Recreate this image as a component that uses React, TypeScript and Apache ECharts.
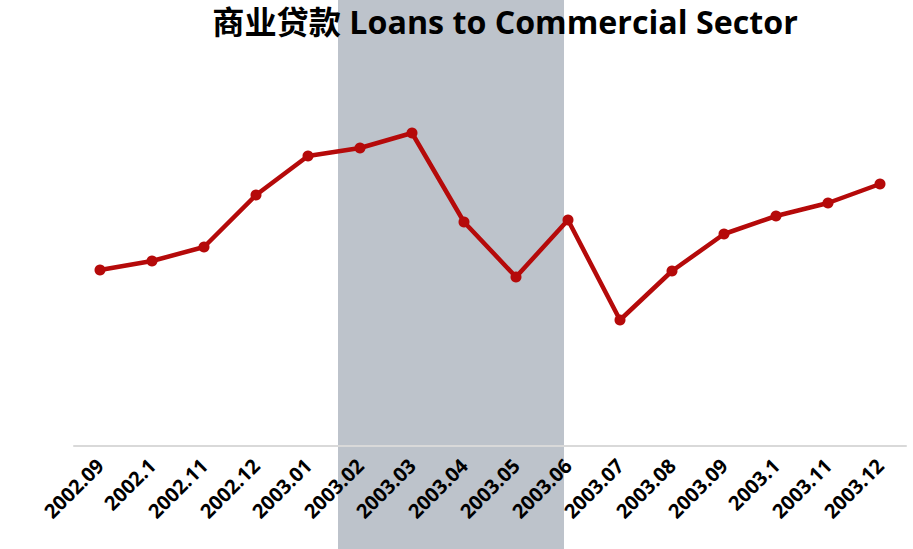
import React, { useEffect, useRef } from "react";
import * as echarts from "echarts";

const categories = [
  "2002.09", "2002.1", "2002.11", "2002.12", "2003.01", "2003.02", "2003.03", "2003.04",
  "2003.05", "2003.06", "2003.07", "2003.08", "2003.09", "2003.1", "2003.11", "2003.12",
];
const loans = [17.6, 18.5, 19.9, 25.1, 29.0, 29.8, 31.3, 22.4, 16.9, 22.6, 12.6, 17.5, 21.2, 23.0, 24.3, 26.2];

const FONT = "'Open Sans', 'Noto Sans CJK SC', sans-serif";

export default function App() {
  const ref = useRef<HTMLDivElement>(null);
  useEffect(() => {
    if (!ref.current) return;
    const chart = echarts.init(ref.current, null, { renderer: "svg" });
    chart.setOption({
      animation: false,
      backgroundColor: "#ffffff",
      title: {
        text: "商业贷款 Loans to Commercial Sector",
        left: 500,
        textAlign: "center",
        top: 0,
        textStyle: { fontFamily: FONT, fontSize: 32.2, fontWeight: "bold", color: "#000" },
      },
      graphic: [
        {
          type: "rect",
          z: -10,
          shape: { x: 338, y: 0, width: 226, height: 549 },
          style: { fill: "#bdc3cb" },
        },
      ],
      grid: { left: 74, right: 7, top: 46, bottom: 103, containLabel: false },
      xAxis: {
        type: "category",
        data: categories,
        boundaryGap: true,
        axisLine: { show: true, lineStyle: { color: "#d9d9d9", width: 2 } },
        axisTick: { show: false },
        axisLabel: {
          rotate: 45,
          interval: 0,
          margin: 16,
          fontFamily: FONT,
          fontSize: 20,
          fontWeight: "bold",
          color: "#000",
        },
        splitLine: { show: false },
      },
      yAxis: {
        type: "value",
        min: 0,
        max: 40,
        show: false,
        splitLine: { show: false },
      },
      series: [
        {
          type: "line",
          data: loans,
          symbol: "circle",
          symbolSize: 11,
          lineStyle: { color: "#b50a0a", width: 4.5 },
          itemStyle: { color: "#b50a0a" },
          z: 5,
        },
      ],
    });
    return () => chart.dispose();
  }, []);
  return <div ref={ref} style={{ width: 913, height: 549, position: "absolute", left: 0, top: 0 }} />;
}
